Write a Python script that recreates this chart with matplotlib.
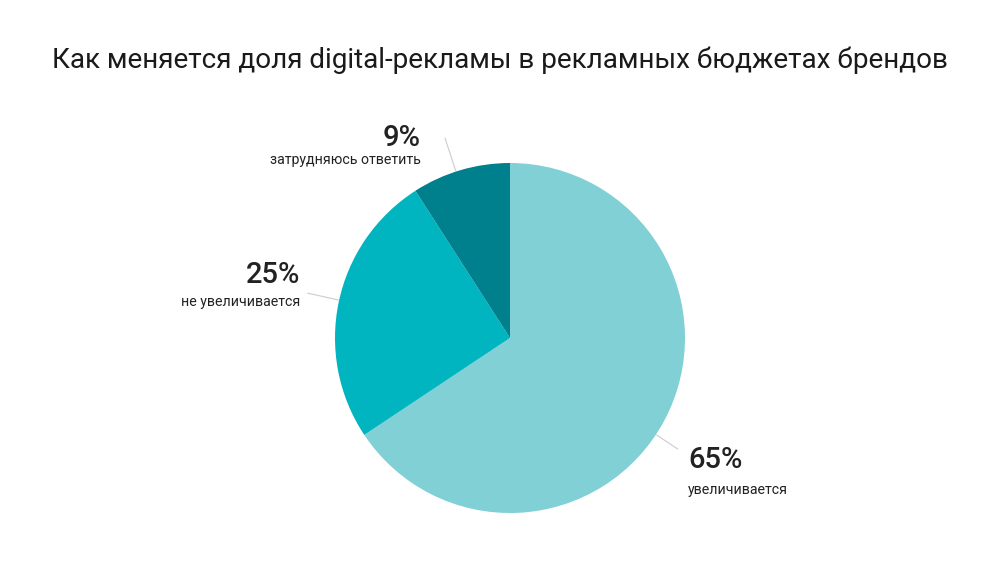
import numpy as np
import matplotlib
matplotlib.use('Agg')
import matplotlib.pyplot as plt

plt.rcParams['font.family'] = ['Roboto', 'DejaVu Sans']

title = 'Как меняется доля digital-рекламы в рекламных бюджетах брендов'
labels = ['увеличивается', 'не увеличивается', 'затрудняюсь ответить']
values = [65, 25, 9]
colors = ['#80d0d6', '#00b5c0', '#007f8c']

W, H = 1000, 569
fig = plt.figure(figsize=(W / 100, H / 100), dpi=100)
ax = fig.add_axes([0, 0, 1, 1])

cx, cy, r = 510, H - 338, 175
wedges, _ = ax.pie(values, colors=colors, startangle=90, counterclock=False,
                   center=(cx, cy), radius=r, frame=True,
                   wedgeprops=dict(linewidth=0))
ax.set_xlim(0, W)
ax.set_ylim(0, H)
ax.set_aspect('equal')
ax.axis('off')

# leader lines (angle in degrees, outer radius) and label anchors
line_ang = [-33.5, 167.5, 108]
line_out = [201, 207, 210]
for a, ro in zip(line_ang, line_out):
    t = np.deg2rad(a)
    ax.plot([cx + (r + 1) * np.cos(t), cx + ro * np.cos(t)],
            [cy + (r + 1) * np.sin(t), cy + ro * np.sin(t)],
            color='#cccccc', lw=0.8)

pos = [(688, 'left', 460, 490), (300, 'right', 275, 302), (421, 'right', 138, 160)]
for v, lab, (x, ha, yp, yl) in zip(values, labels, pos):
    ax.text(x, H - yp, f'{v}%', ha=ha, va='center', fontsize=21,
            fontweight='medium', color='#222222')
    ax.text(x, H - yl, lab, ha=ha, va='center', fontsize=10.2, color='#222222')

ax.text(W / 2, H - 60, title, ha='center', va='center', fontsize=20.1,
        color='#1a1a1a')

fig.savefig('out.png', dpi=100)
